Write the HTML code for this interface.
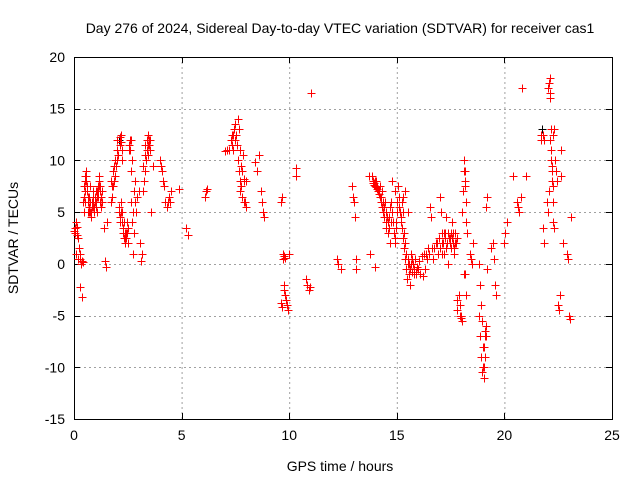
<!DOCTYPE html>
<html><head><meta charset="utf-8"><style>
body{margin:0;background:#fff;}
svg{display:block;font-family:"Liberation Sans",sans-serif;}
</style></head><body>
<svg id="c" width="640" height="480"></svg>
<script>
const hours=[0,0.03,0.06,0.1,0.13,0.16,0.2,0.23,0.26,0.3,0.33,0.36,0.4,
0.45,0.48,0.5,0.53,0.55,0.58,0.6,0.63,0.65,0.68,0.7,0.73,0.75,0.78,0.8,0.83,0.85,0.88,0.9,0.93,0.95,0.98,1.0,1.03,1.05,1.08,1.1,1.13,1.15,1.18,1.2,1.23,1.25,1.28,1.3,
1.4,1.45,1.5,1.55,1.7,1.75,1.8,1.85,1.9,1.95,2.0,2.05,
2.1,2.13,2.15,2.18,2.2,2.23,2.25,2.1,2.15,2.2,2.25,2.3,2.33,2.35,2.38,2.4,2.45,2.5,2.55,2.6,2.63,2.65,2.68,2.7,2.75,2.8,2.85,2.9,2.95,3.0,3.05,3.1,3.15,3.2,3.25,3.3,3.35,3.4,3.43,3.45,3.5,3.55,3.6,3.65,
4.0,4.05,4.1,4.15,4.2,4.25,4.3,4.35,4.4,4.45,4.5,4.9,5.2,5.3,6.1,6.15,6.2,7.0,7.1,7.2,
7.3,7.35,7.4,7.45,7.5,7.55,7.6,7.65,7.7,7.75,7.8,7.85,7.9,7.95,8.0,7.6,7.7,7.8,
8.4,8.5,8.6,8.7,8.75,8.8,8.85,9.6,9.65,9.7,9.72,9.75,9.78,9.8,9.85,9.9,9.95,10.0,10.3,10.32,10.8,10.85,10.9,10.95,11.0,
12.2,12.25,12.4,12.9,12.95,13.0,13.05,13.1,13.12,13.7,13.75,14.0,
13.85,13.9,13.95,14.0,14.05,14.1,14.15,14.2,14.25,14.3,14.35,14.4,14.45,14.5,14.55,14.6,14.65,14.7,14.75,14.8,14.85,14.9,14.95,15.0,15.05,15.1,15.15,15.2,15.25,15.3,15.35,15.4,15.45,15.5,15.55,15.6,
14.8,14.9,15.0,15.1,15.2,15.3,15.4,15.5,
15.65,15.7,15.75,15.8,15.85,15.9,16.0,16.1,16.2,16.3,16.4,16.5,16.55,16.6,16.65,16.7,16.8,16.9,
17.0,17.05,17.1,17.15,17.2,17.25,17.3,17.35,17.4,17.45,17.5,17.55,17.6,17.65,17.7,17.75,17.8,
17.9,17.95,18.0,18.05,18.1,18.12,18.15,18.18,18.2,18.22,18.25,18.4,18.45,18.5,18.55,
18.8,18.85,18.9,18.95,19.0,19.03,19.06,19.1,19.13,19.16,19.2,19.4,19.45,19.5,19.55,19.6,
20.0,20.05,20.1,20.4,20.6,20.65,20.7,20.75,20.8,21.0,21.7,21.75,21.8,21.85,
22.0,22.02,22.05,22.08,22.1,22.12,22.15,22.18,22.2,22.22,22.25,22.28,22.3,22.35,22.4,22.45,22.5,22.55,22.6,22.62,22.65,22.7,22.9,22.95,23.0,23.05,23.1,
0.42,0.46,0.52,0.56,0.62,0.66,0.72,0.76,0.82,0.86,0.92,0.96,1.02,1.06,1.12,1.16,1.22,1.26,0.5,0.6,0.7,0.8,0.9,1.0,1.1,1.2,
1.72,1.78,1.82,1.88,1.92,1.98,2.02,2.08,2.12,2.17,2.22,2.27,2.32,2.37,2.42,2.47,2.52,2.57,2.62,2.67,2.72,2.77,2.82,3.22,3.28,3.32,3.38,3.42,3.48,3.52,
7.32,7.38,7.42,7.48,7.52,7.58,7.62,7.68,7.72,7.78,7.82,7.88,7.92,7.98,
13.88,13.92,13.98,14.02,14.08,14.12,14.18,14.22,14.28,14.32,14.38,14.42,14.48,14.52,14.58,14.62,14.68,14.72,14.78,14.82,14.88,14.92,14.98,15.02,15.08,15.12,15.18,15.22,15.28,15.32,15.38,15.42,15.48,15.52,15.58,
15.62,15.68,15.72,15.78,15.82,15.88,15.95,16.05,16.15,16.25,16.35,16.45,16.75,16.85,16.95,17.02,17.08,17.12,17.18,17.22,17.28,17.32,17.38,17.42,17.48,17.52,17.58,17.62,17.68,17.72,17.78,17.82,
17.92,17.98,18.02,18.08,18.14,18.16,18.19,18.21,18.83,18.88,18.92,18.98,19.02,19.05,19.08,19.12,19.15,19.18,
22.03,22.07,22.11,22.14,22.17,22.21,22.24,22.27,22.32,21.72,21.78,21.82,0.08,0.18,0.28,0.38,9.63,9.68,9.74,9.79,9.83,9.88];
const sdtvar=[3.2,3.5,3.0,4.0,3.6,2.8,2.5,1.5,1.0,0.5,0,0.3,0.2,
5,6.5,7,8.5,9,8,7.5,6,5,6.5,5,7.5,6,5,4.5,5.5,6,7,6,5,5.5,6.5,7,6,5,6.5,7,7.5,8,8.5,7.5,6,6.5,7,6,
3.5,0.3,-0.3,4,6,6.5,7.5,8,8.5,9.5,10,10.5,
12,11.5,12.3,11.8,12.5,11,10,5,4,6,5,3,4,2.5,2,2.5,3,3.5,11.5,11,12,9,10,4,1,3,6,5,6.5,7,2,0.3,1,7,8,9,10,11,10.5,12.5,12,11,5,9.5,
10,9.5,9,8,7.5,6,5.5,6,6.5,6,7,7.2,3.5,2.8,6.5,7,7.2,10.9,11,11,
12,12.5,11,13,12,12.5,14,13,11,9.5,9,10.5,8,6,5.5,10,7,6.5,
9.8,9,10.5,7,6,5,4.5,6,6.5,1,0.5,-2,-2.5,-3,-3.5,-4,-4.5,1,9.3,8.5,-1.5,-2,-2.5,-2.2,16.5,
0.5,0,-0.5,7.5,6.5,6,4.5,0.5,-0.5,8.5,1,-0.3,
8.5,8,7.8,7.5,8,7.5,7,7.5,6.5,7,6,5.5,6,5,4.5,4,3.5,2,4,5,3,2,4,6,7.5,6.5,5,4,6,5,3,2,1,0,-1,-2,
8,7,6,5.5,4,6.5,7,5,
1,0.5,0,-0.5,0.5,-1,-0.5,-1,-1.2,-0.5,0.5,1,5.5,4.5,1.5,0.5,2,1,
6.5,5,3,2,1,3,4.5,2,0,2.5,3,4,2,1,3,2,2.5,
-3,-4,-5,-5.5,-1,10,9,8,6,4,3,1,0.5,0,2,
0,-2,-4,-5.5,-8,-10,-11,-9,-7,-6,-0.5,1.5,2,0.5,-2,-3,
2,3,4,8.5,6,5.5,5,6.5,17,8.5,12,13,12.5,12,
6,5,7,17.5,18,16,13,11,9.5,8,6,4,3.5,10,9,8,-4,-4.5,-3,11,8.5,2,1,0.5,-5,-5.3,
4.5,6,7.5,8,8.5,7,6.5,5.5,5,6,6.5,5.5,6,5.5,7,6.5,7.5,7,5.5,6,7,6.5,5,5.5,6,7,
7,8,7.5,9,9.5,10,11,12,5.5,4.5,5,4,3.5,2.5,3,3,4,2,11,12,6,5,7,8,9.5,10.5,11.5,12,11.5,
11.5,12,11.5,12.5,13,13.5,12.5,11.5,10,9,8,7.5,6.5,6,
8.2,8,7.8,7.6,8,7.4,7.2,7,6.8,6.5,6,5.5,5,4.5,4,3.5,3,4.5,5.5,6,5,4,3,2.5,3.5,5,6.5,5.5,4.5,3.5,2.5,1.5,0.5,-0.5,-1.5,
0.5,0,-0.5,0,-0.8,-1,-1,-0.8,-0.3,0.3,0.8,1,1,1.5,1.5,2,2.5,1.5,1,2,3,2.5,1.5,2,3,2.5,2,1.5,2.5,3,1.5,2,
-3.5,-4.5,-5,-5.2,5,7,9,7.5,-1,-3,-5,-7,-9,-10.5,-10,-8,-7,-6.5,
5.5,6.5,17,17.5,16.5,12,10,9,7.5,12.5,13,12.5,3.5,2,1,0.5,-2.2,-3.2,-3.8,-4.2,0.8,0.6];
const blackIdx=[60,300];
const xTicks=[0,5,10,15,20,25];
const yTicks=[-15,-10,-5,0,5,10,15,20];
const L=74,R=612,T=57,B=419;
const xs=v=>L+(v-0)/25*(R-L);
const ys=v=>B-(v+15)/35*(B-T);
const svg=document.getElementById('c');
const NS='http://www.w3.org/2000/svg';
function mk(tag,attrs,parent){const e=document.createElementNS(NS,tag);for(const k in attrs)e.setAttribute(k,attrs[k]);(parent||svg).appendChild(e);return e;}
const grid=mk('g',{stroke:'#a0a0a0','stroke-dasharray':'2,3','stroke-width':1});


xTicks.forEach(t=>{if(t>0&&t<25)mk('line',{x1:xs(t)+.5,x2:xs(t)+.5,y1:T,y2:B},grid);});
yTicks.forEach(t=>{if(t>-15&&t<20)mk('line',{x1:L,x2:R,y1:Math.round(ys(t))+.5,y2:Math.round(ys(t))+.5},grid);});
const ax=mk('g',{stroke:'#000','stroke-width':1,fill:'none'});


mk('rect',{x:L+.5,y:T+.5,width:R-L,height:B-T},ax);
xTicks.forEach(t=>{const x=Math.round(xs(t))+.5;mk('line',{x1:x,x2:x,y1:B,y2:B-6},ax);mk('line',{x1:x,x2:x,y1:T,y2:T+6},ax);
const tx=mk('text',{x:xs(t),y:B+21,'text-anchor':'middle','font-size':14,fill:'#000',stroke:'none'});tx.textContent=t;

});
yTicks.forEach(t=>{const y=Math.round(ys(t))+.5;mk('line',{x1:L,x2:L+6,y1:y,y2:y},ax);mk('line',{x1:R,x2:R-6,y1:y,y2:y},ax);
const tx=mk('text',{x:L-9,y:ys(t)+5,'text-anchor':'end','font-size':14,fill:'#000',stroke:'none'});tx.textContent=t;

});
const pts=mk('g',{'stroke-width':1});


hours.forEach((h,i)=>{const x=Math.round(xs(h))+.5,y=Math.round(ys(sdtvar[i]))+.5;
const c=blackIdx.includes(i)?'#000':'#f00';
const p=mk('path',{d:`M${x-4} ${y}H${x+4}M${x} ${y-4}V${y+4}`,stroke:c},pts);

});
const t1=mk('text',{x:340,y:33,'text-anchor':'middle','font-size':14});t1.textContent='Day 276 of 2024, Sidereal Day-to-day VTEC variation (SDTVAR) for receiver cas1';


const t2=mk('text',{x:340,y:471,'text-anchor':'middle','font-size':14});t2.textContent='GPS time / hours';


const t3=mk('text',{x:18,y:238,'text-anchor':'middle','font-size':14,transform:'rotate(-90 18 238)'});t3.textContent='SDTVAR / TECUs';


</script>
</body></html>
